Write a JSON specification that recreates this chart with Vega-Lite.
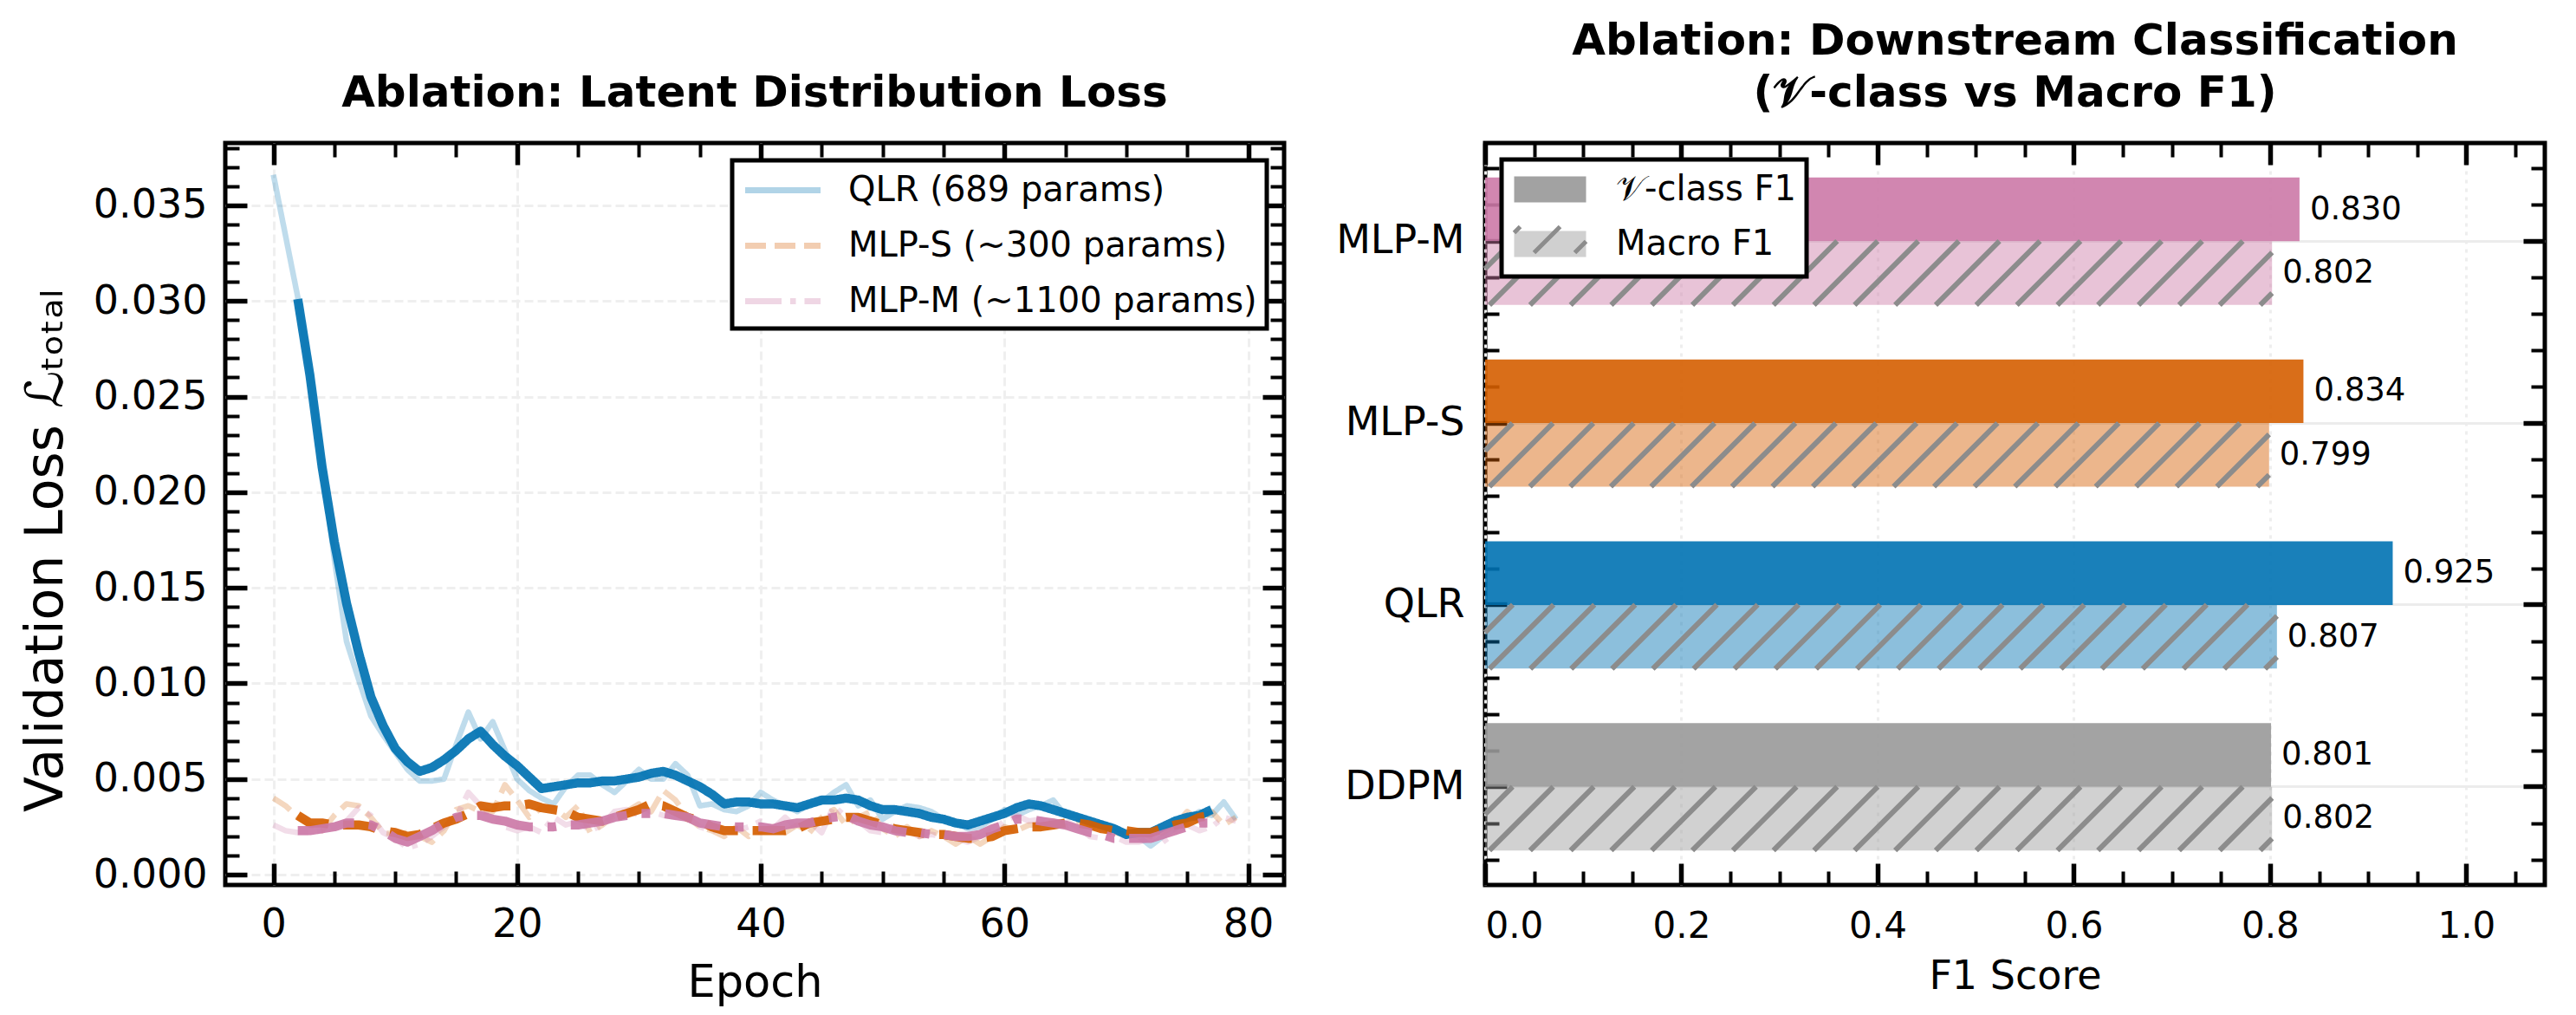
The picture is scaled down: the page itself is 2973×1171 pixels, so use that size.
{
  "$schema": "https://vega.github.io/schema/vega-lite/v6.json",
  "background": "white",
  "padding": {"left": 20, "top": 20, "right": 20, "bottom": 10},
  "datasets": {
    "loss": [
      {"epoch": 0, "model": "QLR", "loss": 0.0366, "smooth": null},
      {"epoch": 1, "model": "QLR", "loss": 0.0334, "smooth": null},
      {"epoch": 2, "model": "QLR", "loss": 0.0302, "smooth": 0.0301},
      {"epoch": 3, "model": "QLR", "loss": 0.0262, "smooth": 0.0261},
      {"epoch": 4, "model": "QLR", "loss": 0.0215, "smooth": 0.0213},
      {"epoch": 5, "model": "QLR", "loss": 0.0165, "smooth": 0.0174},
      {"epoch": 6, "model": "QLR", "loss": 0.0122, "smooth": 0.0142},
      {"epoch": 7, "model": "QLR", "loss": 0.0102, "smooth": 0.0116},
      {"epoch": 8, "model": "QLR", "loss": 0.0083, "smooth": 0.0093},
      {"epoch": 9, "model": "QLR", "loss": 0.0073, "smooth": 0.0078},
      {"epoch": 10, "model": "QLR", "loss": 0.0064, "smooth": 0.0066},
      {"epoch": 11, "model": "QLR", "loss": 0.0055, "smooth": 0.0059},
      {"epoch": 12, "model": "QLR", "loss": 0.0049, "smooth": 0.0054},
      {"epoch": 13, "model": "QLR", "loss": 0.0049, "smooth": 0.0056},
      {"epoch": 14, "model": "QLR", "loss": 0.0050, "smooth": 0.0060},
      {"epoch": 15, "model": "QLR", "loss": 0.0068, "smooth": 0.0065},
      {"epoch": 16, "model": "QLR", "loss": 0.0085, "smooth": 0.0071},
      {"epoch": 17, "model": "QLR", "loss": 0.0071, "smooth": 0.0075},
      {"epoch": 18, "model": "QLR", "loss": 0.0080, "smooth": 0.0068},
      {"epoch": 19, "model": "QLR", "loss": 0.0065, "smooth": 0.0062},
      {"epoch": 20, "model": "QLR", "loss": 0.0050, "smooth": 0.0057},
      {"epoch": 21, "model": "QLR", "loss": 0.0044, "smooth": 0.0051},
      {"epoch": 22, "model": "QLR", "loss": 0.0040, "smooth": 0.0045},
      {"epoch": 23, "model": "QLR", "loss": 0.0037, "smooth": 0.0046},
      {"epoch": 24, "model": "QLR", "loss": 0.0046, "smooth": 0.0047},
      {"epoch": 25, "model": "QLR", "loss": 0.0052, "smooth": 0.0048},
      {"epoch": 26, "model": "QLR", "loss": 0.0052, "smooth": 0.0048},
      {"epoch": 27, "model": "QLR", "loss": 0.0047, "smooth": 0.0049},
      {"epoch": 28, "model": "QLR", "loss": 0.0043, "smooth": 0.0049},
      {"epoch": 29, "model": "QLR", "loss": 0.0049, "smooth": 0.0050},
      {"epoch": 30, "model": "QLR", "loss": 0.0055, "smooth": 0.0051},
      {"epoch": 31, "model": "QLR", "loss": 0.0050, "smooth": 0.0053},
      {"epoch": 32, "model": "QLR", "loss": 0.0050, "smooth": 0.0054},
      {"epoch": 33, "model": "QLR", "loss": 0.0058, "smooth": 0.0052},
      {"epoch": 34, "model": "QLR", "loss": 0.0052, "smooth": 0.0049},
      {"epoch": 35, "model": "QLR", "loss": 0.0036, "smooth": 0.0046},
      {"epoch": 36, "model": "QLR", "loss": 0.0037, "smooth": 0.0042},
      {"epoch": 37, "model": "QLR", "loss": 0.0034, "smooth": 0.0037},
      {"epoch": 38, "model": "QLR", "loss": 0.0033, "smooth": 0.0038},
      {"epoch": 39, "model": "QLR", "loss": 0.0036, "smooth": 0.0038},
      {"epoch": 40, "model": "QLR", "loss": 0.0043, "smooth": 0.0037},
      {"epoch": 41, "model": "QLR", "loss": 0.0039, "smooth": 0.0037},
      {"epoch": 42, "model": "QLR", "loss": 0.0036, "smooth": 0.0036},
      {"epoch": 43, "model": "QLR", "loss": 0.0033, "smooth": 0.0035},
      {"epoch": 44, "model": "QLR", "loss": 0.0037, "smooth": 0.0037},
      {"epoch": 45, "model": "QLR", "loss": 0.0038, "smooth": 0.0039},
      {"epoch": 46, "model": "QLR", "loss": 0.0043, "smooth": 0.0039},
      {"epoch": 47, "model": "QLR", "loss": 0.0047, "smooth": 0.0040},
      {"epoch": 48, "model": "QLR", "loss": 0.0036, "smooth": 0.0039},
      {"epoch": 49, "model": "QLR", "loss": 0.0039, "smooth": 0.0036},
      {"epoch": 50, "model": "QLR", "loss": 0.0029, "smooth": 0.0034},
      {"epoch": 51, "model": "QLR", "loss": 0.0033, "smooth": 0.0034},
      {"epoch": 52, "model": "QLR", "loss": 0.0036, "smooth": 0.0033},
      {"epoch": 53, "model": "QLR", "loss": 0.0035, "smooth": 0.0032},
      {"epoch": 54, "model": "QLR", "loss": 0.0033, "smooth": 0.0030},
      {"epoch": 55, "model": "QLR", "loss": 0.0029, "smooth": 0.0029},
      {"epoch": 56, "model": "QLR", "loss": 0.0027, "smooth": 0.0027},
      {"epoch": 57, "model": "QLR", "loss": 0.0024, "smooth": 0.0026},
      {"epoch": 58, "model": "QLR", "loss": 0.0025, "smooth": 0.0028},
      {"epoch": 59, "model": "QLR", "loss": 0.0029, "smooth": 0.0030},
      {"epoch": 60, "model": "QLR", "loss": 0.0034, "smooth": 0.0032},
      {"epoch": 61, "model": "QLR", "loss": 0.0031, "smooth": 0.0035},
      {"epoch": 62, "model": "QLR", "loss": 0.0034, "smooth": 0.0037},
      {"epoch": 63, "model": "QLR", "loss": 0.0036, "smooth": 0.0036},
      {"epoch": 64, "model": "QLR", "loss": 0.0039, "smooth": 0.0034},
      {"epoch": 65, "model": "QLR", "loss": 0.0031, "smooth": 0.0032},
      {"epoch": 66, "model": "QLR", "loss": 0.0031, "smooth": 0.0030},
      {"epoch": 67, "model": "QLR", "loss": 0.0026, "smooth": 0.0028},
      {"epoch": 68, "model": "QLR", "loss": 0.0027, "smooth": 0.0026},
      {"epoch": 69, "model": "QLR", "loss": 0.0025, "smooth": 0.0024},
      {"epoch": 70, "model": "QLR", "loss": 0.0021, "smooth": 0.0021},
      {"epoch": 71, "model": "QLR", "loss": 0.0020, "smooth": 0.0022},
      {"epoch": 72, "model": "QLR", "loss": 0.0015, "smooth": 0.0022},
      {"epoch": 73, "model": "QLR", "loss": 0.0020, "smooth": 0.0025},
      {"epoch": 74, "model": "QLR", "loss": 0.0024, "smooth": 0.0028},
      {"epoch": 75, "model": "QLR", "loss": 0.0029, "smooth": 0.0030},
      {"epoch": 76, "model": "QLR", "loss": 0.0033, "smooth": 0.0031},
      {"epoch": 77, "model": "QLR", "loss": 0.0031, "smooth": 0.0034},
      {"epoch": 78, "model": "QLR", "loss": 0.0038, "smooth": null},
      {"epoch": 79, "model": "QLR", "loss": 0.0029, "smooth": null},
      {"epoch": 0, "model": "MLP-S", "loss": 0.0040, "smooth": null},
      {"epoch": 1, "model": "MLP-S", "loss": 0.0036, "smooth": null},
      {"epoch": 2, "model": "MLP-S", "loss": 0.0030, "smooth": 0.0031},
      {"epoch": 3, "model": "MLP-S", "loss": 0.0026, "smooth": 0.0027},
      {"epoch": 4, "model": "MLP-S", "loss": 0.0023, "smooth": 0.0027},
      {"epoch": 5, "model": "MLP-S", "loss": 0.0031, "smooth": 0.0026},
      {"epoch": 6, "model": "MLP-S", "loss": 0.0037, "smooth": 0.0026},
      {"epoch": 7, "model": "MLP-S", "loss": 0.0036, "smooth": 0.0026},
      {"epoch": 8, "model": "MLP-S", "loss": 0.0030, "smooth": 0.0025},
      {"epoch": 9, "model": "MLP-S", "loss": 0.0022, "smooth": 0.0023},
      {"epoch": 10, "model": "MLP-S", "loss": 0.0021, "smooth": 0.0022},
      {"epoch": 11, "model": "MLP-S", "loss": 0.0022, "smooth": 0.0020},
      {"epoch": 12, "model": "MLP-S", "loss": 0.0020, "smooth": 0.0021},
      {"epoch": 13, "model": "MLP-S", "loss": 0.0017, "smooth": 0.0024},
      {"epoch": 14, "model": "MLP-S", "loss": 0.0023, "smooth": 0.0027},
      {"epoch": 15, "model": "MLP-S", "loss": 0.0034, "smooth": 0.0029},
      {"epoch": 16, "model": "MLP-S", "loss": 0.0036, "smooth": 0.0032},
      {"epoch": 17, "model": "MLP-S", "loss": 0.0033, "smooth": 0.0036},
      {"epoch": 18, "model": "MLP-S", "loss": 0.0033, "smooth": 0.0035},
      {"epoch": 19, "model": "MLP-S", "loss": 0.0047, "smooth": 0.0036},
      {"epoch": 20, "model": "MLP-S", "loss": 0.0039, "smooth": 0.0036},
      {"epoch": 21, "model": "MLP-S", "loss": 0.0030, "smooth": 0.0037},
      {"epoch": 22, "model": "MLP-S", "loss": 0.0035, "smooth": 0.0035},
      {"epoch": 23, "model": "MLP-S", "loss": 0.0035, "smooth": 0.0034},
      {"epoch": 24, "model": "MLP-S", "loss": 0.0030, "smooth": 0.0033},
      {"epoch": 25, "model": "MLP-S", "loss": 0.0036, "smooth": 0.0030},
      {"epoch": 26, "model": "MLP-S", "loss": 0.0022, "smooth": 0.0029},
      {"epoch": 27, "model": "MLP-S", "loss": 0.0026, "smooth": 0.0028},
      {"epoch": 28, "model": "MLP-S", "loss": 0.0031, "smooth": 0.0030},
      {"epoch": 29, "model": "MLP-S", "loss": 0.0033, "smooth": 0.0032},
      {"epoch": 30, "model": "MLP-S", "loss": 0.0037, "smooth": 0.0034},
      {"epoch": 31, "model": "MLP-S", "loss": 0.0033, "smooth": 0.0037},
      {"epoch": 32, "model": "MLP-S", "loss": 0.0044, "smooth": 0.0036},
      {"epoch": 33, "model": "MLP-S", "loss": 0.0039, "smooth": 0.0033},
      {"epoch": 34, "model": "MLP-S", "loss": 0.0030, "smooth": 0.0030},
      {"epoch": 35, "model": "MLP-S", "loss": 0.0025, "smooth": 0.0028},
      {"epoch": 36, "model": "MLP-S", "loss": 0.0023, "smooth": 0.0025},
      {"epoch": 37, "model": "MLP-S", "loss": 0.0020, "smooth": 0.0023},
      {"epoch": 38, "model": "MLP-S", "loss": 0.0025, "smooth": 0.0023},
      {"epoch": 39, "model": "MLP-S", "loss": 0.0020, "smooth": 0.0023},
      {"epoch": 40, "model": "MLP-S", "loss": 0.0023, "smooth": 0.0023},
      {"epoch": 41, "model": "MLP-S", "loss": 0.0025, "smooth": 0.0023},
      {"epoch": 42, "model": "MLP-S", "loss": 0.0022, "smooth": 0.0023},
      {"epoch": 43, "model": "MLP-S", "loss": 0.0026, "smooth": 0.0024},
      {"epoch": 44, "model": "MLP-S", "loss": 0.0022, "smooth": 0.0027},
      {"epoch": 45, "model": "MLP-S", "loss": 0.0030, "smooth": 0.0028},
      {"epoch": 46, "model": "MLP-S", "loss": 0.0034, "smooth": 0.0029},
      {"epoch": 47, "model": "MLP-S", "loss": 0.0026, "smooth": 0.0030},
      {"epoch": 48, "model": "MLP-S", "loss": 0.0030, "smooth": 0.0030},
      {"epoch": 49, "model": "MLP-S", "loss": 0.0033, "smooth": 0.0028},
      {"epoch": 50, "model": "MLP-S", "loss": 0.0024, "smooth": 0.0026},
      {"epoch": 51, "model": "MLP-S", "loss": 0.0020, "smooth": 0.0024},
      {"epoch": 52, "model": "MLP-S", "loss": 0.0025, "smooth": 0.0023},
      {"epoch": 53, "model": "MLP-S", "loss": 0.0020, "smooth": 0.0022},
      {"epoch": 54, "model": "MLP-S", "loss": 0.0023, "smooth": 0.0021},
      {"epoch": 55, "model": "MLP-S", "loss": 0.0020, "smooth": 0.0021},
      {"epoch": 56, "model": "MLP-S", "loss": 0.0016, "smooth": 0.0020},
      {"epoch": 57, "model": "MLP-S", "loss": 0.0020, "smooth": 0.0019},
      {"epoch": 58, "model": "MLP-S", "loss": 0.0016, "smooth": 0.0019},
      {"epoch": 59, "model": "MLP-S", "loss": 0.0020, "smooth": 0.0020},
      {"epoch": 60, "model": "MLP-S", "loss": 0.0025, "smooth": 0.0023},
      {"epoch": 61, "model": "MLP-S", "loss": 0.0023, "smooth": 0.0024},
      {"epoch": 62, "model": "MLP-S", "loss": 0.0026, "smooth": 0.0025},
      {"epoch": 63, "model": "MLP-S", "loss": 0.0026, "smooth": 0.0025},
      {"epoch": 64, "model": "MLP-S", "loss": 0.0028, "smooth": 0.0026},
      {"epoch": 65, "model": "MLP-S", "loss": 0.0025, "smooth": 0.0027},
      {"epoch": 66, "model": "MLP-S", "loss": 0.0028, "smooth": 0.0027},
      {"epoch": 67, "model": "MLP-S", "loss": 0.0026, "smooth": 0.0026},
      {"epoch": 68, "model": "MLP-S", "loss": 0.0024, "smooth": 0.0024},
      {"epoch": 69, "model": "MLP-S", "loss": 0.0022, "smooth": 0.0023},
      {"epoch": 70, "model": "MLP-S", "loss": 0.0021, "smooth": 0.0023},
      {"epoch": 71, "model": "MLP-S", "loss": 0.0023, "smooth": 0.0022},
      {"epoch": 72, "model": "MLP-S", "loss": 0.0020, "smooth": 0.0022},
      {"epoch": 73, "model": "MLP-S", "loss": 0.0022, "smooth": 0.0024},
      {"epoch": 74, "model": "MLP-S", "loss": 0.0026, "smooth": 0.0026},
      {"epoch": 75, "model": "MLP-S", "loss": 0.0033, "smooth": 0.0027},
      {"epoch": 76, "model": "MLP-S", "loss": 0.0028, "smooth": 0.0030},
      {"epoch": 77, "model": "MLP-S", "loss": 0.0033, "smooth": 0.0031},
      {"epoch": 78, "model": "MLP-S", "loss": 0.0026, "smooth": null},
      {"epoch": 79, "model": "MLP-S", "loss": 0.0030, "smooth": null},
      {"epoch": 0, "model": "MLP-M", "loss": 0.0026, "smooth": null},
      {"epoch": 1, "model": "MLP-M", "loss": 0.0023, "smooth": null},
      {"epoch": 2, "model": "MLP-M", "loss": 0.0022, "smooth": 0.0023},
      {"epoch": 3, "model": "MLP-M", "loss": 0.0022, "smooth": 0.0023},
      {"epoch": 4, "model": "MLP-M", "loss": 0.0023, "smooth": 0.0024},
      {"epoch": 5, "model": "MLP-M", "loss": 0.0025, "smooth": 0.0025},
      {"epoch": 6, "model": "MLP-M", "loss": 0.0028, "smooth": 0.0027},
      {"epoch": 7, "model": "MLP-M", "loss": 0.0035, "smooth": 0.0027},
      {"epoch": 8, "model": "MLP-M", "loss": 0.0031, "smooth": 0.0026},
      {"epoch": 9, "model": "MLP-M", "loss": 0.0022, "smooth": 0.0023},
      {"epoch": 10, "model": "MLP-M", "loss": 0.0019, "smooth": 0.0019},
      {"epoch": 11, "model": "MLP-M", "loss": 0.0014, "smooth": 0.0017},
      {"epoch": 12, "model": "MLP-M", "loss": 0.0016, "smooth": 0.0020},
      {"epoch": 13, "model": "MLP-M", "loss": 0.0020, "smooth": 0.0023},
      {"epoch": 14, "model": "MLP-M", "loss": 0.0025, "smooth": 0.0027},
      {"epoch": 15, "model": "MLP-M", "loss": 0.0030, "smooth": 0.0030},
      {"epoch": 16, "model": "MLP-M", "loss": 0.0043, "smooth": 0.0031},
      {"epoch": 17, "model": "MLP-M", "loss": 0.0036, "smooth": 0.0031},
      {"epoch": 18, "model": "MLP-M", "loss": 0.0031, "smooth": 0.0029},
      {"epoch": 19, "model": "MLP-M", "loss": 0.0025, "smooth": 0.0028},
      {"epoch": 20, "model": "MLP-M", "loss": 0.0023, "smooth": 0.0026},
      {"epoch": 21, "model": "MLP-M", "loss": 0.0025, "smooth": 0.0025},
      {"epoch": 22, "model": "MLP-M", "loss": 0.0022, "smooth": 0.0025},
      {"epoch": 23, "model": "MLP-M", "loss": 0.0030, "smooth": 0.0025},
      {"epoch": 24, "model": "MLP-M", "loss": 0.0026, "smooth": 0.0026},
      {"epoch": 25, "model": "MLP-M", "loss": 0.0028, "smooth": 0.0026},
      {"epoch": 26, "model": "MLP-M", "loss": 0.0023, "smooth": 0.0027},
      {"epoch": 27, "model": "MLP-M", "loss": 0.0026, "smooth": 0.0028},
      {"epoch": 28, "model": "MLP-M", "loss": 0.0033, "smooth": 0.0030},
      {"epoch": 29, "model": "MLP-M", "loss": 0.0034, "smooth": 0.0031},
      {"epoch": 30, "model": "MLP-M", "loss": 0.0031, "smooth": 0.0032},
      {"epoch": 31, "model": "MLP-M", "loss": 0.0033, "smooth": 0.0032},
      {"epoch": 32, "model": "MLP-M", "loss": 0.0031, "smooth": 0.0032},
      {"epoch": 33, "model": "MLP-M", "loss": 0.0030, "smooth": 0.0031},
      {"epoch": 34, "model": "MLP-M", "loss": 0.0031, "smooth": 0.0030},
      {"epoch": 35, "model": "MLP-M", "loss": 0.0025, "smooth": 0.0027},
      {"epoch": 36, "model": "MLP-M", "loss": 0.0023, "smooth": 0.0026},
      {"epoch": 37, "model": "MLP-M", "loss": 0.0024, "smooth": 0.0025},
      {"epoch": 38, "model": "MLP-M", "loss": 0.0023, "smooth": 0.0025},
      {"epoch": 39, "model": "MLP-M", "loss": 0.0025, "smooth": 0.0025},
      {"epoch": 40, "model": "MLP-M", "loss": 0.0028, "smooth": 0.0025},
      {"epoch": 41, "model": "MLP-M", "loss": 0.0024, "smooth": 0.0024},
      {"epoch": 42, "model": "MLP-M", "loss": 0.0030, "smooth": 0.0026},
      {"epoch": 43, "model": "MLP-M", "loss": 0.0024, "smooth": 0.0027},
      {"epoch": 44, "model": "MLP-M", "loss": 0.0028, "smooth": 0.0027},
      {"epoch": 45, "model": "MLP-M", "loss": 0.0022, "smooth": 0.0029},
      {"epoch": 46, "model": "MLP-M", "loss": 0.0036, "smooth": 0.0030},
      {"epoch": 47, "model": "MLP-M", "loss": 0.0030, "smooth": 0.0031},
      {"epoch": 48, "model": "MLP-M", "loss": 0.0028, "smooth": 0.0028},
      {"epoch": 49, "model": "MLP-M", "loss": 0.0023, "smooth": 0.0026},
      {"epoch": 50, "model": "MLP-M", "loss": 0.0022, "smooth": 0.0025},
      {"epoch": 51, "model": "MLP-M", "loss": 0.0026, "smooth": 0.0023},
      {"epoch": 52, "model": "MLP-M", "loss": 0.0023, "smooth": 0.0022},
      {"epoch": 53, "model": "MLP-M", "loss": 0.0020, "smooth": 0.0022},
      {"epoch": 54, "model": "MLP-M", "loss": 0.0021, "smooth": 0.0021},
      {"epoch": 55, "model": "MLP-M", "loss": 0.0020, "smooth": 0.0021},
      {"epoch": 56, "model": "MLP-M", "loss": 0.0019, "smooth": 0.0020},
      {"epoch": 57, "model": "MLP-M", "loss": 0.0017, "smooth": 0.0020},
      {"epoch": 58, "model": "MLP-M", "loss": 0.0020, "smooth": 0.0021},
      {"epoch": 59, "model": "MLP-M", "loss": 0.0023, "smooth": 0.0024},
      {"epoch": 60, "model": "MLP-M", "loss": 0.0028, "smooth": 0.0026},
      {"epoch": 61, "model": "MLP-M", "loss": 0.0031, "smooth": 0.0029},
      {"epoch": 62, "model": "MLP-M", "loss": 0.0028, "smooth": 0.0029},
      {"epoch": 63, "model": "MLP-M", "loss": 0.0029, "smooth": 0.0028},
      {"epoch": 64, "model": "MLP-M", "loss": 0.0026, "smooth": 0.0027},
      {"epoch": 65, "model": "MLP-M", "loss": 0.0028, "smooth": 0.0026},
      {"epoch": 66, "model": "MLP-M", "loss": 0.0025, "smooth": 0.0024},
      {"epoch": 67, "model": "MLP-M", "loss": 0.0020, "smooth": 0.0022},
      {"epoch": 68, "model": "MLP-M", "loss": 0.0019, "smooth": 0.0021},
      {"epoch": 69, "model": "MLP-M", "loss": 0.0020, "smooth": 0.0019},
      {"epoch": 70, "model": "MLP-M", "loss": 0.0017, "smooth": 0.0019},
      {"epoch": 71, "model": "MLP-M", "loss": 0.0017, "smooth": 0.0019},
      {"epoch": 72, "model": "MLP-M", "loss": 0.0019, "smooth": 0.0019},
      {"epoch": 73, "model": "MLP-M", "loss": 0.0017, "smooth": 0.0021},
      {"epoch": 74, "model": "MLP-M", "loss": 0.0022, "smooth": 0.0023},
      {"epoch": 75, "model": "MLP-M", "loss": 0.0026, "smooth": 0.0025},
      {"epoch": 76, "model": "MLP-M", "loss": 0.0023, "smooth": 0.0027},
      {"epoch": 77, "model": "MLP-M", "loss": 0.0025, "smooth": 0.0027},
      {"epoch": 78, "model": "MLP-M", "loss": 0.0030, "smooth": null},
      {"epoch": 79, "model": "MLP-M", "loss": 0.0028, "smooth": null}
    ],
    "f1": [
      {"model": "MLP-M", "metric": "𝒱-class F1", "value": 0.830},
      {"model": "MLP-M", "metric": "Macro F1", "value": 0.802},
      {"model": "MLP-S", "metric": "𝒱-class F1", "value": 0.834},
      {"model": "MLP-S", "metric": "Macro F1", "value": 0.799},
      {"model": "QLR", "metric": "𝒱-class F1", "value": 0.925},
      {"model": "QLR", "metric": "Macro F1", "value": 0.807},
      {"model": "DDPM", "metric": "𝒱-class F1", "value": 0.801},
      {"model": "DDPM", "metric": "Macro F1", "value": 0.802}
    ]
  },
  "hconcat": [
    {
      "width": 1222,
      "height": 856,
      "title": {"text": "Ablation: Latent Distribution Loss", "frame": "group", "baseline": "alphabetic", "offset": -11},
      "data": {"name": "loss"},
      "layer": [
        {
          "mark": {"type": "line", "strokeWidth": 6.5, "opacity": 0.25, "strokeJoin": "round"},
          "encoding": {
            "x": {"field": "epoch", "type": "quantitative", "scale": {"domain": [-3.95, 82.95], "nice": false, "zero": false},
              "axis": {"orient": "bottom", "values": [0, 20, 40, 60, 80], "format": "d", "title": "Epoch", "titleFontSize": 51, "titlePadding": 20, "tickSize": -25, "tickWidth": 5.5, "labelPadding": 48, "grid": true, "gridColor": "#efefef", "gridDash": [10, 5], "gridWidth": 3}},
            "y": {"field": "loss", "type": "quantitative", "scale": {"domain": [-0.00054, 0.03826], "nice": false, "zero": false},
              "axis": {"orient": "left", "values": [0, 0.005, 0.01, 0.015, 0.02, 0.025, 0.03, 0.035], "format": ".3f", "title": "Validation Loss ℒₜₒₜₐₗ", "titleFontSize": 60, "titleY": 470, "titlePadding": 23, "tickSize": -25, "tickWidth": 5.5, "labelPadding": 46, "grid": true, "gridColor": "#efefef", "gridDash": [10, 5], "gridWidth": 3}},
            "color": {"field": "model", "type": "nominal", "scale": {"domain": ["QLR", "MLP-S", "MLP-M"], "range": ["#0072B2", "#D55E00", "#CC79A7"]},
              "legend": {"title": null, "orient": "top-right", "offset": 20, "padding": 11, "rowPadding": 20, "labelOffset": 76, "symbolType": "M-0.975,0H3.375", "symbolSize": 1600, "symbolStrokeWidth": 7, "symbolOpacity": 0.3, "symbolFillColor": "transparent",
                "labelExpr": "datum.label == 'QLR' ? 'QLR (689 params)' : datum.label == 'MLP-S' ? 'MLP-S (~300 params)' : 'MLP-M (~1100 params)'"}},
            "strokeDash": {"field": "model", "type": "nominal", "scale": {"domain": ["QLR", "MLP-S", "MLP-M"], "range": [[1, 0], [24, 10], [42, 10, 6.5, 10]]},
              "legend": {"title": null, "orient": "top-right", "offset": 20, "padding": 11, "rowPadding": 20, "labelOffset": 76, "symbolType": "M-0.975,0H3.375", "symbolSize": 1600, "symbolStrokeWidth": 7, "symbolOpacity": 0.3, "symbolFillColor": "transparent",
                "labelExpr": "datum.label == 'QLR' ? 'QLR (689 params)' : datum.label == 'MLP-S' ? 'MLP-S (~300 params)' : 'MLP-M (~1100 params)'"}}
          }
        },
        {
          "mark": {"type": "line", "strokeWidth": 10.5, "opacity": 0.92, "strokeJoin": "round"},
          "encoding": {
            "x": {"field": "epoch", "type": "quantitative", "scale": {"domain": [-3.95, 82.95], "nice": false, "zero": false},
              "axis": {"orient": "top", "values": [0, 20, 40, 60, 80], "labels": false, "title": null, "tickSize": -25, "tickWidth": 5.5, "grid": false}},
            "y": {"field": "smooth", "type": "quantitative", "scale": {"domain": [-0.00054, 0.03826], "nice": false, "zero": false},
              "axis": {"orient": "right", "values": [0, 0.005, 0.01, 0.015, 0.02, 0.025, 0.03, 0.035], "labels": false, "title": null, "tickSize": -25, "tickWidth": 5.5, "grid": false}},
            "color": {"field": "model", "type": "nominal", "scale": {"domain": ["QLR", "MLP-S", "MLP-M"], "range": ["#0072B2", "#D55E00", "#CC79A7"]}, "legend": null},
            "strokeDash": {"field": "model", "type": "nominal", "scale": {"domain": ["QLR", "MLP-S", "MLP-M"], "range": [[1, 0], [38, 17], [66, 17, 10, 17]]}, "legend": null}
          }
        },
        {
          "mark": {"type": "point", "opacity": 0},
          "encoding": {
            "x": {"field": "epoch", "type": "quantitative", "scale": {"domain": [-3.95, 82.95], "nice": false, "zero": false},
              "axis": {"orient": "bottom", "values": [5, 10, 15, 25, 30, 35, 45, 50, 55, 65, 70, 75], "labels": false, "title": null, "tickSize": -16, "tickWidth": 4, "grid": false}},
            "y": {"field": "loss", "type": "quantitative", "scale": {"domain": [-0.00054, 0.03826], "nice": false, "zero": false},
              "axis": {"orient": "left", "values": [0.001, 0.002, 0.003, 0.004, 0.006, 0.007, 0.008, 0.009, 0.011, 0.012, 0.013, 0.014, 0.016, 0.017, 0.018, 0.019, 0.021, 0.022, 0.023, 0.024, 0.026, 0.027, 0.028, 0.029, 0.031, 0.032, 0.033, 0.034, 0.036, 0.037, 0.038], "labels": false, "title": null, "tickSize": -16, "tickWidth": 4, "grid": false}}
          }
        },
        {
          "mark": {"type": "point", "opacity": 0},
          "encoding": {
            "x": {"field": "epoch", "type": "quantitative", "scale": {"domain": [-3.95, 82.95], "nice": false, "zero": false},
              "axis": {"orient": "top", "values": [5, 10, 15, 25, 30, 35, 45, 50, 55, 65, 70, 75], "labels": false, "title": null, "tickSize": -16, "tickWidth": 4, "grid": false}},
            "y": {"field": "loss", "type": "quantitative", "scale": {"domain": [-0.00054, 0.03826], "nice": false, "zero": false},
              "axis": {"orient": "right", "values": [0.001, 0.002, 0.003, 0.004, 0.006, 0.007, 0.008, 0.009, 0.011, 0.012, 0.013, 0.014, 0.016, 0.017, 0.018, 0.019, 0.021, 0.022, 0.023, 0.024, 0.026, 0.027, 0.028, 0.029, 0.031, 0.032, 0.033, 0.034, 0.036, 0.037, 0.038], "labels": false, "title": null, "tickSize": -16, "tickWidth": 4, "grid": false}}
          }
        }
      ],
      "resolve": {"scale": {"color": "independent", "strokeDash": "independent"}, "axis": {"x": "independent", "y": "independent"}}
    },
    {
      "width": 1223,
      "height": 856,
      "title": {"text": ["Ablation: Downstream Classification", "(𝒱-class vs Macro F1)"], "frame": "group", "baseline": "alphabetic", "offset": -11, "lineHeight": 60},
      "data": {"name": "f1"},
      "layer": [
        {
          "layer": [
            {
              "mark": {"type": "bar"},
              "encoding": {
                "y": {"field": "model", "type": "nominal", "sort": ["MLP-M", "MLP-S", "QLR", "DDPM"], "scale": {"paddingInner": 0.3, "paddingOuter": 0.19},
                  "axis": {"orient": "left", "title": null, "labelFontSize": 46, "labelPadding": 49, "tickSize": -25, "tickWidth": 5.5, "grid": true, "gridColor": "#ececec", "gridWidth": 3}},
                "yOffset": {"field": "metric", "type": "nominal", "sort": ["𝒱-class F1", "Macro F1"], "scale": {"paddingInner": 0, "paddingOuter": 0}},
                "x": {"field": "value", "type": "quantitative", "scale": {"domain": [0, 1.08], "nice": false, "zero": false},
                  "axis": {"orient": "bottom", "values": [0, 0.2, 0.4, 0.6, 0.8, 1.0], "format": ".1f", "title": "F1 Score", "titleFontSize": 46, "titlePadding": 15, "labelFontSize": 42, "labelPadding": 52, "tickSize": -25, "tickWidth": 5.5, "grid": true, "gridColor": "#eeeeee", "gridDash": [4, 6], "gridWidth": 3}},
                "color": {"field": "model", "type": "nominal", "scale": {"domain": ["QLR", "MLP-S", "MLP-M", "DDPM"], "range": ["#0072B2", "#D55E00", "#CC79A7", "#999999"]}, "legend": null},
                "opacity": {"field": "metric", "type": "nominal", "scale": {"domain": ["𝒱-class F1", "Macro F1"], "range": [0.9, 0.45]},
                  "legend": {"title": null, "orient": "top-left", "offset": 19, "padding": 12, "rowPadding": 12, "labelOffset": 75, "symbolType": "M-1,-0.75H3.15V0.75H-1Z", "symbolSize": 1600, "symbolFillColor": "#999999", "symbolStrokeColor": "transparent", "symbolStrokeWidth": 5, "zindex": 1}}
              }
            },
            {
              "transform": [{"filter": "datum.metric == 'Macro F1'"}],
              "mark": {"type": "point", "filled": false, "color": "#8c8c8c", "strokeWidth": 6, "opacity": 1,
                "shape": "M0,-5L31.7,-36.7M5,36.7L78.4,-36.7M51.7,36.7L125.1,-36.7M98.4,36.7L171.8,-36.7M145.1,36.7L218.5,-36.7M191.8,36.7L265.2,-36.7M238.5,36.7L311.9,-36.7M285.2,36.7L358.6,-36.7M331.9,36.7L405.3,-36.7M378.6,36.7L452,-36.7M425.3,36.7L498.7,-36.7M472,36.7L545.4,-36.7M518.7,36.7L592.1,-36.7M565.4,36.7L638.8,-36.7M612.1,36.7L685.5,-36.7M658.8,36.7L732.2,-36.7M705.5,36.7L778.9,-36.7M752.2,36.7L825.6,-36.7M798.9,36.7L872.3,-36.7M845.6,36.7L906,-23.7M892.3,36.7L906,23"},
              "encoding": {
                "x": {"datum": 0, "type": "quantitative", "axis": null},
                "y": {"field": "model", "type": "nominal", "sort": ["MLP-M", "MLP-S", "QLR", "DDPM"], "axis": null},
                "yOffset": {"field": "metric", "type": "nominal", "sort": ["𝒱-class F1", "Macro F1"]},
                "size": {"field": "value", "type": "quantitative", "scale": {"type": "pow", "exponent": 2, "domain": [0, 1], "range": [0, 6.25]}, "legend": null}
              }
            },
            {
              "mark": {"type": "text", "align": "left", "baseline": "middle", "dx": 12, "fontSize": 37, "color": "black"},
              "encoding": {
                "x": {"field": "value", "type": "quantitative",
                  "axis": {"orient": "top", "values": [0, 0.2, 0.4, 0.6, 0.8, 1.0], "labels": false, "title": null, "tickSize": -25, "tickWidth": 5.5, "grid": false}},
                "y": {"field": "model", "type": "nominal", "sort": ["MLP-M", "MLP-S", "QLR", "DDPM"],
                  "axis": {"orient": "right", "labels": false, "title": null, "tickSize": -25, "tickWidth": 5.5, "grid": false}},
                "yOffset": {"field": "metric", "type": "nominal", "sort": ["𝒱-class F1", "Macro F1"]},
                "text": {"field": "value", "type": "quantitative", "format": ".3f"}
              }
            }
          ],
          "resolve": {"axis": {"x": "independent", "y": "independent"}}
        },
        {
          "mark": {"type": "point", "opacity": 0},
          "encoding": {
            "x": {"datum": 0, "type": "quantitative", "scale": {"domain": [0, 1.08], "nice": false, "zero": false},
              "axis": {"orient": "bottom", "values": [0.05, 0.1, 0.15, 0.25, 0.3, 0.35, 0.45, 0.5, 0.55, 0.65, 0.7, 0.75, 0.85, 0.9, 0.95, 1.05], "labels": false, "title": null, "tickSize": -16, "tickWidth": 4, "grid": false}},
            "y": {"datum": 0, "type": "quantitative", "scale": {"domain": [-0.54, 3.54], "nice": false, "zero": false},
              "axis": {"orient": "left", "values": [-0.4, -0.2, 0.2, 0.4, 0.6, 0.8, 1.2, 1.4, 1.6, 1.8, 2.2, 2.4, 2.6, 2.8, 3.2, 3.4], "labels": false, "title": null, "tickSize": -16, "tickWidth": 4, "grid": false}}
          }
        },
        {
          "mark": {"type": "point", "opacity": 0, "filled": false},
          "encoding": {
            "x": {"datum": 0, "type": "quantitative", "scale": {"domain": [0, 1.08], "nice": false, "zero": false},
              "axis": {"orient": "top", "values": [0.05, 0.1, 0.15, 0.25, 0.3, 0.35, 0.45, 0.5, 0.55, 0.65, 0.7, 0.75, 0.85, 0.9, 0.95, 1.05], "labels": false, "title": null, "tickSize": -16, "tickWidth": 4, "grid": false}},
            "y": {"datum": 0, "type": "quantitative", "scale": {"domain": [-0.54, 3.54], "nice": false, "zero": false},
              "axis": {"orient": "right", "values": [-0.4, -0.2, 0.2, 0.4, 0.6, 0.8, 1.2, 1.4, 1.6, 1.8, 2.2, 2.4, 2.6, 2.8, 3.2, 3.4], "labels": false, "title": null, "tickSize": -16, "tickWidth": 4, "grid": false}},
            "shape": {"field": "metric", "type": "nominal", "scale": {"domain": ["𝒱-class F1", "Macro F1"], "range": ["M0,0", "M-1,-0.4L-0.65,-0.75M0.15,0.75L1.65,-0.75M2.5,0.75L3.15,0.1"]},
              "legend": {"title": null, "orient": "none", "legendX": 19, "legendY": 19, "padding": 12, "rowPadding": 12, "labelOffset": 75, "symbolSize": 1600, "symbolOpacity": 1, "symbolFillColor": "transparent", "symbolStrokeColor": "#8c8c8c", "symbolStrokeWidth": 5, "strokeColor": "transparent", "fillColor": "transparent", "labelColor": "transparent", "zindex": 2}}
          }
        }
      ],
      "resolve": {"scale": {"y": "independent"}, "axis": {"x": "independent", "y": "independent"}}
    }
  ],
  "spacing": 232,
  "bounds": "flush",
  "resolve": {"scale": {"opacity": "independent", "shape": "independent"}, "legend": {"opacity": "independent", "shape": "independent"}},
  "config": {
    "font": "DejaVu Sans",
    "view": {"stroke": "black", "strokeWidth": 5},
    "axis": {"domain": false, "tickColor": "black", "labelColor": "black", "titleColor": "black", "labelFont": "DejaVu Sans", "titleFont": "DejaVu Sans", "titleFontWeight": "normal", "labelFontSize": 46, "titleFontSize": 58, "labelLimit": 1000},
    "title": {"font": "DejaVu Sans", "fontSize": 50, "fontWeight": "bold", "color": "black", "anchor": "middle"},
    "legend": {"labelFont": "DejaVu Sans", "labelFontSize": 40, "labelColor": "black", "labelLimit": 1000, "padding": 15, "rowPadding": 20, "labelOffset": 32, "strokeColor": "black", "strokeWidth": 5, "fillColor": "white", "cornerRadius": 0, "symbolBaseFillColor": "#999999"}
  }
}
